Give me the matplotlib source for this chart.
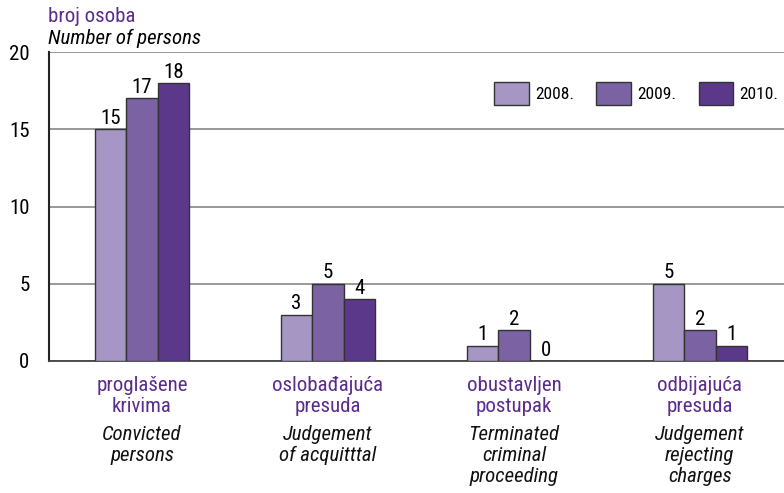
import matplotlib.pyplot as plt
import matplotlib.transforms as mtransforms
import numpy as np

plt.rcParams['font.family'] = ['Roboto Condensed', 'Liberation Sans', 'DejaVu Sans']

# podaci
years = ['2008.', '2009.', '2010.']
cat_hr = ['proglašene\nkrivima', 'oslobađajuća\npresuda', 'obustavljen\npostupak', 'odbijajuća\npresuda']
cat_en = ['Convicted\npersons', 'Judgement\nof acquitttal', 'Terminated\ncriminal\nproceeding', 'Judgement\nrejecting\ncharges']
v2008 = [15, 3, 1, 5]
v2009 = [17, 5, 2, 2]
v2010 = [18, 4, 0, 1]
colors = ['#a696c4', '#7b62a3', '#5b3889']
purple = '#5b2c8c'

fig = plt.figure(figsize=(7.84, 4.93), dpi=100)
ax = fig.add_axes([49/784, 1 - 361/493, 1 - 49/784, (361 - 52)/493])

x = np.arange(len(cat_hr))
w = 0.17
for k, vals in enumerate([v2008, v2009, v2010]):
    bars = ax.bar(x + (k - 1) * w, vals, w, color=colors[k], edgecolor='#333333',
                  linewidth=1, label=years[k], zorder=3)
    ax.bar_label(bars, fontsize=15, padding=1)

ax.set_xlim(-0.5, 3.452)
ax.set_ylim(0, 20)
ax.set_yticks([0, 5, 10, 15, 20])
ax.set_xticks([])
ax.tick_params(axis='y', length=0, pad=14, labelsize=15)
ax.grid(axis='y', color='#888888', linewidth=1.2, zorder=0)
for s in ['top', 'right']:
    ax.spines[s].set_visible(False)
ax.spines['left'].set_color('#222222')
ax.spines['left'].set_linewidth(1.5)
ax.spines['bottom'].set_color('#444444')
ax.spines['bottom'].set_linewidth(1.3)

# nazivi kategorija
tr = mtransforms.blended_transform_factory(ax.transData, fig.transFigure)
for i in range(len(cat_hr)):
    ax.text(x[i], 1 - 376/493, cat_hr[i], transform=tr, ha='center', va='top',
            fontsize=15, color=purple, linespacing=1.12)
    ax.text(x[i], 1 - 425/493, cat_en[i], transform=tr, ha='center', va='top',
            fontsize=15, style='italic', color='#111111', linespacing=1.12)

fig.text(48/784, 1 - 16/493, 'broj osoba', fontsize=15, color=purple, va='center')
fig.text(48/784, 1 - 38/493, 'Number of persons', fontsize=15, style='italic', va='center')

ax.legend(loc='upper left', bbox_to_anchor=(494/784, 1 - 82/493), bbox_transform=fig.transFigure,
          ncol=3, frameon=False, fontsize=12.5, handlelength=2.0, handleheight=1.66,
          handletextpad=0.35, columnspacing=1.3, borderpad=0, borderaxespad=0)

fig.savefig('out.png', dpi=100)
